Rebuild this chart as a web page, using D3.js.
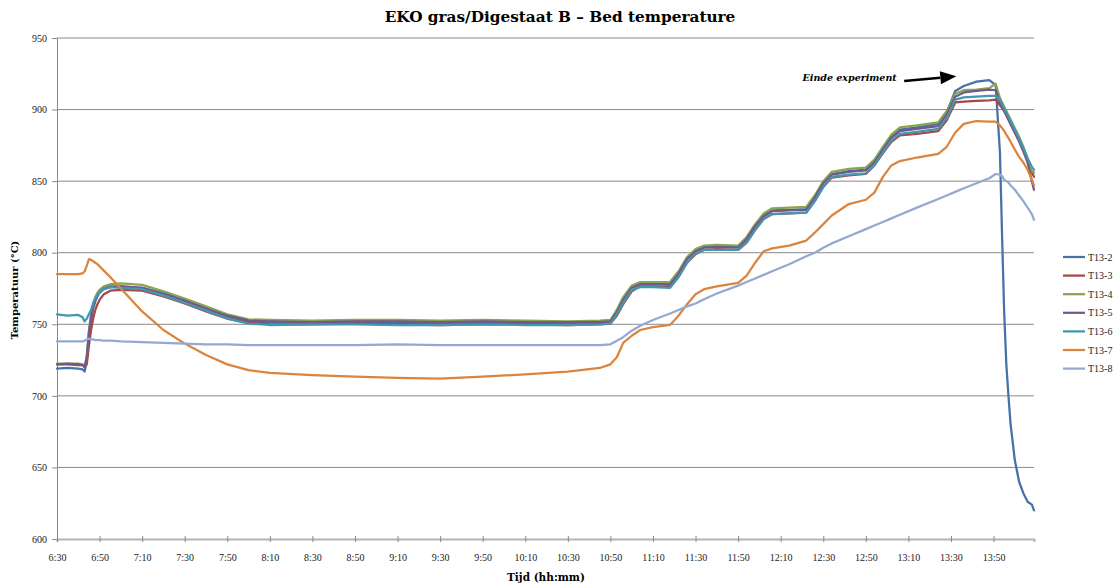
<!DOCTYPE html>
<html>
<head>
<meta charset="utf-8">
<script src="https://cdn.jsdelivr.net/npm/d3@7"></script>
<style>
    body { margin: 0; background: #fff; }
    svg text { font-family: "Liberation Serif", "DejaVu Serif", serif; }
    svg text.heading { font-family: "DejaVu Serif", serif; font-weight: bold; }
</style>
</head>
<body>
<div id="chart"></div>
<script>
/*
 * Time of each sample, minutes after 6:30.
 */
var minutes = [0, 5, 10, 12, 13, 14, 15, 16, 17, 18, 19, 20, 22, 25, 30, 40, 50, 60, 70, 80, 90, 100, 120, 140,
    160, 180, 200, 220, 240, 255, 260, 263, 266, 270, 274, 280, 288, 292, 296, 300, 304, 310, 320, 324, 328, 332,
    336, 344, 352, 356, 360, 364, 372, 380, 384, 388, 392, 396, 404, 414, 418, 422, 426, 432, 438, 441, 443, 444,
    445, 446, 447, 448, 450, 452, 454, 456, 458, 459];

var t13_2 = [719, 719.5, 719, 718.5, 717, 725, 742, 753, 761, 766, 769.5, 772, 774.5, 776, 776.5, 775.5, 771.5, 766.5,
    761, 755.5, 752, 751.5, 751, 751.5, 751, 750.5, 751, 751, 750.5, 751, 752, 759, 768, 775.5, 778, 778, 778, 786,
    796, 801.5, 804, 804.5, 804, 810, 819, 826, 829.5, 830, 830.5, 839, 849, 855, 857, 858, 864, 873, 881, 886,
    887.5, 890, 898, 913, 916.5, 919.5, 920.5, 917, 870, 812, 758, 722, 700, 680, 655, 640, 632, 626, 624, 620];

var t13_3 = [722, 722, 721.5, 721.5, 720, 722, 735, 746, 754, 760, 764, 767, 771, 773.5, 774, 773.5, 769.5, 764.5,
    759, 754, 751, 750, 750, 750.5, 750, 749.5, 750, 750, 749.5, 750, 750.5, 756, 764, 773, 776.5, 776.5, 776, 783,
    793, 799, 802, 802.5, 802, 807, 816, 823.5, 827, 827.5, 828, 836, 846, 852.5, 854, 855, 861, 869.5, 877.5, 882,
    883, 885, 892.5, 905, 905.5, 906, 906.5, 907, 903, 901, 899, 896, 893, 890, 884, 878, 871, 864, 856, 853];

var t13_4 = [722.5, 722.5, 722.5, 722, 721, 728, 746, 757, 764, 769, 772, 774, 776.5, 778, 778.5, 777.5, 773, 768,
    762.5, 757, 753.5, 753, 752.5, 753, 753, 752.5, 753, 752.5, 752, 752.5, 753, 760, 769, 777, 779.5, 779.5, 779.5,
    787, 797, 802.5, 805, 805.5, 805, 811, 820, 827.5, 831, 831.5, 832, 840, 850, 856.5, 858.5, 859.5, 865, 874,
    882.5, 887.5, 889, 891, 899, 911, 913.5, 914, 915, 918, 908, 905, 902, 899, 896, 893, 887, 881, 874, 866, 857, 856];

var t13_5 = [722, 722.5, 722, 721.5, 720, 727, 744, 755, 763, 767, 770.5, 772.5, 775, 776.5, 776.5, 775.5, 771.5,
    766.5, 761, 756, 752.5, 752, 751.5, 752, 752, 751.5, 752, 751.5, 751.5, 751.5, 752, 758.5, 767, 775.5, 778, 778,
    777.5, 785.5, 795.5, 801, 803.5, 804, 803.5, 809.5, 818.5, 825.5, 829, 829.5, 830, 838.5, 848.5, 854.5, 856.5,
    857.5, 863, 872, 880.5, 885, 886.5, 888.5, 896.5, 909, 912, 913, 914, 913.5, 905, 902, 899, 896, 893, 890, 884,
    878, 871, 863, 850, 844];

var t13_6 = [757, 756, 756.5, 755, 752, 754, 757, 760, 765, 768, 770.5, 772.5, 775, 776, 775.5, 774.5, 770, 765,
    759.5, 754, 750.5, 749.5, 750, 750, 749.5, 749.5, 750, 749.5, 749.5, 750, 750.5, 757, 765, 774, 776, 776, 775.5,
    783, 793, 799.5, 802, 802, 802, 807, 816, 823.5, 827, 827.5, 828, 836, 846, 853, 854.5, 855.5, 861, 870, 878.5,
    883, 884.5, 886.5, 894, 907, 908.5, 909, 909.5, 909.5, 907, 904, 901, 898, 895, 892, 886, 880, 873, 866, 860, 858];

var t13_7 = [785, 785, 785, 785.5, 787, 791, 795.5, 795, 794, 793, 792, 790.5, 787.5, 783, 775, 759, 746, 736.5,
    728.5, 722, 718, 716, 714.5, 713.5, 712.5, 712, 713.5, 715, 717, 719.5, 722, 727, 737, 742, 746, 748, 749.5, 756,
    764, 771, 774.5, 776.5, 779, 784, 793, 801, 803, 805, 808.5, 814, 820, 826, 834, 837, 842, 853, 861, 864, 866.5,
    869, 874, 884, 890, 892, 891.5, 891.5, 889, 887, 885, 882.5, 880, 877.5, 872, 867, 863, 858, 851, 847];

var t13_8 = [738, 738, 738, 738, 738.5, 739.5, 740, 739.5, 739.5, 739, 739, 739, 738.5, 738.5, 738, 737.5, 737,
    736.5, 736, 736, 735.5, 735.5, 735.5, 735.5, 736, 735.5, 735.5, 735.5, 735.5, 735.5, 736, 738.5, 741, 745.5, 749,
    753, 757.5, 760, 762.5, 764.5, 767.5, 771.5, 777, 779.5, 782, 784.5, 787, 792, 797.5, 800, 803.5, 806.5, 811.5,
    816.5, 819, 821.5, 824, 826.5, 831.5, 837.5, 840, 842.5, 845, 848.5, 852, 855, 854.5, 853.5, 851, 850, 849, 847,
    844, 840, 836, 831.5, 827, 823];

var seriesNames = ['T13-2', 'T13-3', 'T13-4', 'T13-5', 'T13-6', 'T13-7', 'T13-8'];
var seriesValues = [t13_2, t13_3, t13_4, t13_5, t13_6, t13_7, t13_8];
var seriesColors = ['#4572A7', '#AA4643', '#89A54E', '#71588F', '#4198AF', '#DB843D', '#93A9CF'];

var yTicks = [600, 650, 700, 750, 800, 850, 900, 950];
var xTicks = d3.range(0, 441, 20);

var titleText = 'EKO gras/Digestaat B \u2013 Bed temperature';
var yTitle = 'Temperatuur (\u00B0C)';
var xTitle = 'Tijd (hh:mm)';

/*
 * Annotation: text end and arrow in data units.
 */
var noteText = 'Einde experiment';
var noteAt = [394.5, 920];
var arrowFrom = [398, 920];
var arrowTo = [422.5, 923.3];

/*
 * Chart size and plot box.
 */
var width = 1118, height = 585;
var plot = { left: 57, right: 1034, top: 38, bottom: 539 };

var svg = d3.select('#chart').append('svg')
    .attr('width', width)
    .attr('height', height);

var x = d3.scaleLinear().domain([0, 459]).range([plot.left, plot.right]);
var y = d3.scaleLinear().domain([600, 950]).range([plot.bottom, plot.top]);

var fmtTime = function(m) {
    var total = 6 * 60 + 30 + m;
    var mm = total % 60;
    return Math.floor(total / 60) + ':' + (mm < 10 ? '0' : '') + mm;
};

/*
 * Horizontal gridlines.
 */
svg.append('g')
    .selectAll('line')
    .data(yTicks.slice(1))
    .enter().append('line')
    .attr('x1', plot.left).attr('x2', plot.right)
    .attr('y1', d => y(d)).attr('y2', d => y(d))
    .attr('stroke', '#8a8a8a')
    .attr('stroke-width', 1);

/*
 * Y axis.
 */
var yAxis = svg.append('g')
    .attr('transform', 'translate(' + plot.left + ',0)')
    .call(d3.axisLeft(y).tickValues(yTicks).tickSize(5).tickPadding(5));
yAxis.select('.domain').attr('stroke', '#8a8a8a');
yAxis.selectAll('.tick line').attr('stroke', '#8a8a8a');
yAxis.selectAll('.tick text')
    .style('font-family', '"Liberation Serif", serif')
    .style('font-size', '10px')
    .attr('fill', '#222');

/*
 * X axis.
 */
var xAxis = svg.append('g')
    .attr('transform', 'translate(0,' + plot.bottom + ')')
    .call(d3.axisBottom(x).tickValues(xTicks).tickFormat(fmtTime).tickSize(3).tickPadding(12));
xAxis.select('.domain').attr('stroke', '#b4b4b4').attr('stroke-width', 2);
xAxis.selectAll('.tick line').attr('stroke', '#8a8a8a').attr('y1', -3);
xAxis.selectAll('.tick text')
    .style('font-family', '"Liberation Serif", serif')
    .style('font-size', '10px')
    .attr('fill', '#222');

/*
 * Series lines.
 */
var line = d3.line()
    .x((d, i) => x(minutes[i]))
    .y(d => y(d));

svg.append('g')
    .selectAll('path')
    .data(seriesValues)
    .enter().append('path')
    .attr('d', d => line(d))
    .attr('fill', 'none')
    .attr('stroke', (d, i) => seriesColors[i])
    .attr('stroke-width', 2.25)
    .attr('stroke-linejoin', 'round')
    .attr('stroke-linecap', 'round');

/*
 * Titles.
 */
svg.append('text')
    .attr('class', 'heading')
    .attr('x', 560).attr('y', 22)
    .attr('text-anchor', 'middle')
    .style('font-size', '15.3px')
    .text(titleText);

svg.append('text')
    .attr('class', 'heading')
    .attr('transform', 'translate(18,290) rotate(-90)')
    .attr('text-anchor', 'middle')
    .style('font-size', '10px')
    .text(yTitle);

svg.append('text')
    .attr('class', 'heading')
    .attr('x', 546).attr('y', 581)
    .attr('text-anchor', 'middle')
    .style('font-size', '10.5px')
    .text(xTitle);

/*
 * Annotation with arrow.
 */
svg.append('text')
    .attr('class', 'heading')
    .attr('x', x(noteAt[0])).attr('y', y(noteAt[1]))
    .attr('text-anchor', 'end')
    .style('font-size', '9.5px')
    .style('font-style', 'italic')
    .text(noteText);

var ax0 = x(arrowFrom[0]), ay0 = y(arrowFrom[1]);
var ax1 = x(arrowTo[0]), ay1 = y(arrowTo[1]);
var ang = Math.atan2(ay1 - ay0, ax1 - ax0);
var headLen = 16, headHalf = 6.5;
var bx = ax1 - headLen * Math.cos(ang), by = ay1 - headLen * Math.sin(ang);

svg.append('line')
    .attr('x1', ax0).attr('y1', ay0)
    .attr('x2', bx).attr('y2', by)
    .attr('stroke', '#000')
    .attr('stroke-width', 2.5);

svg.append('path')
    .attr('d', 'M' + ax1 + ',' + ay1 +
        'L' + (bx - headHalf * Math.sin(ang)) + ',' + (by + headHalf * Math.cos(ang)) +
        'L' + (bx + headHalf * Math.sin(ang)) + ',' + (by - headHalf * Math.cos(ang)) + 'Z')
    .attr('fill', '#000');

/*
 * Legend.
 */
var legend = svg.append('g')
    .attr('transform', 'translate(1063,257)');

var items = legend.selectAll('g')
    .data(seriesNames)
    .enter().append('g')
    .attr('transform', (d, i) => 'translate(0,' + (i * 18.6) + ')');

items.append('line')
    .attr('x1', 0).attr('x2', 22)
    .attr('stroke', (d, i) => seriesColors[i])
    .attr('stroke-width', 2.25);

items.append('text')
    .attr('x', 25).attr('y', 3.5)
    .style('font-size', '10px')
    .attr('fill', '#222')
    .text(d => d);
</script>
</body>
</html>
